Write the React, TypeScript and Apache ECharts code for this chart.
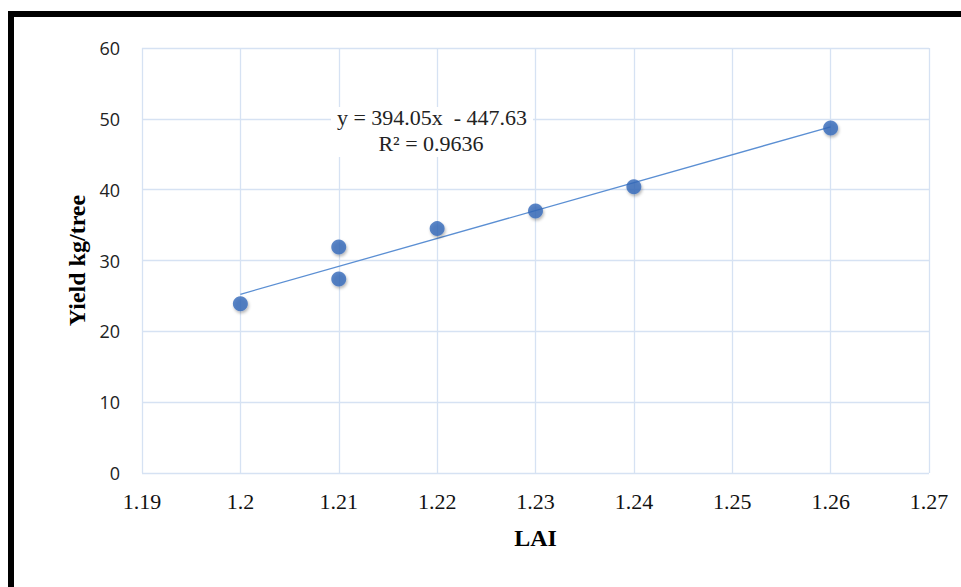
import React, { useEffect, useRef } from "react";
import * as echarts from "echarts";

const laiValues = [1.2, 1.21, 1.21, 1.22, 1.23, 1.24, 1.26];
const yieldValues = [23.9, 31.9, 27.4, 34.5, 37.0, 40.4, 48.7];
const slope = 394.05;
const intercept = -447.63;
const r2 = 0.9636;
const trendXs = [1.2, 1.26];

export default function App() {
  const ref = useRef<HTMLDivElement>(null);
  useEffect(() => {
    if (!ref.current) return;
    const chart = echarts.init(ref.current, null, { renderer: "svg" });
    const points = laiValues.map((x, i) => [x, yieldValues[i]]);
    const trend = trendXs.map((x) => [x, slope * x + intercept]);
    chart.setOption({
      animation: false,
      backgroundColor: "#ffffff",
      grid: { left: 142, top: 48, right: 32, bottom: 114, containLabel: false },
      xAxis: {
        type: "value",
        min: 1.19,
        max: 1.27,
        interval: 0.01,
        name: "LAI",
        nameLocation: "middle",
        nameGap: 53,
        nameTextStyle: { fontFamily: "Liberation Serif", fontWeight: "bold", fontSize: 24, color: "#000" },
        axisLine: { show: false },
        axisTick: { show: false },
        axisLabel: {
          fontFamily: "Liberation Serif",
          fontSize: 22,
          color: "#111",
          margin: 17,
          formatter: (v: number) => String(parseFloat(v.toFixed(2))),
        },
        splitLine: { show: true, lineStyle: { color: "#d6e2f3", width: 1.3 } },
      },
      yAxis: {
        type: "value",
        min: 0,
        max: 60,
        interval: 10,
        name: "Yield kg/tree",
        nameLocation: "middle",
        nameGap: 52,
        nameTextStyle: { fontFamily: "Liberation Serif", fontWeight: "bold", fontSize: 24, color: "#000" },
        axisLine: { show: false },
        axisTick: { show: false },
        axisLabel: { fontFamily: "Open Sans", fontSize: 18, color: "#222", margin: 22 },
        splitLine: { show: true, lineStyle: { color: "#d6e2f3", width: 1.3 } },
      },
      series: [
        {
          type: "line",
          data: trend,
          symbol: "none",
          lineStyle: { color: "#5b8fd3", width: 1.3 },
          z: 2,
        },
        {
          type: "scatter",
          data: points,
          symbol: "circle",
          symbolSize: 15,
          itemStyle: {
            color: "#3569ba",
            shadowColor: "rgba(0,0,0,0.35)",
            shadowBlur: 3,
            shadowOffsetX: 1,
            shadowOffsetY: 2,
          },
          z: 3,
        },
      ],
      graphic: [
        { type: "rect", z: 20, shape: { x: 8, y: 11, width: 953, height: 6 }, style: { fill: "#000" } },
        { type: "rect", z: 20, shape: { x: 8, y: 11, width: 6, height: 576 }, style: { fill: "#000" } },
        { type: "rect", z: 10, shape: { x: 331, y: 107, width: 202, height: 50 }, style: { fill: "#fff" } },
        {
          type: "text",
          z: 11,
          x: 432,
          y: 117,
          style: {
            text: `y = ${slope}x  - ${Math.abs(intercept)}`,
            fontFamily: "Liberation Serif",
            fontSize: 22,
            fill: "#222",
            align: "center",
            verticalAlign: "middle",
          },
        },
        {
          type: "text",
          z: 11,
          x: 431,
          y: 143,
          style: {
            text: `R² = ${r2}`,
            fontFamily: "Liberation Serif",
            fontSize: 22,
            fill: "#222",
            align: "center",
            verticalAlign: "middle",
          },
        },
      ],
    });
    return () => chart.dispose();
  }, []);
  return (
    <div
      ref={ref}
      style={{ position: "fixed", left: 0, top: 0, width: 961, height: 587 }}
    />
  );
}
